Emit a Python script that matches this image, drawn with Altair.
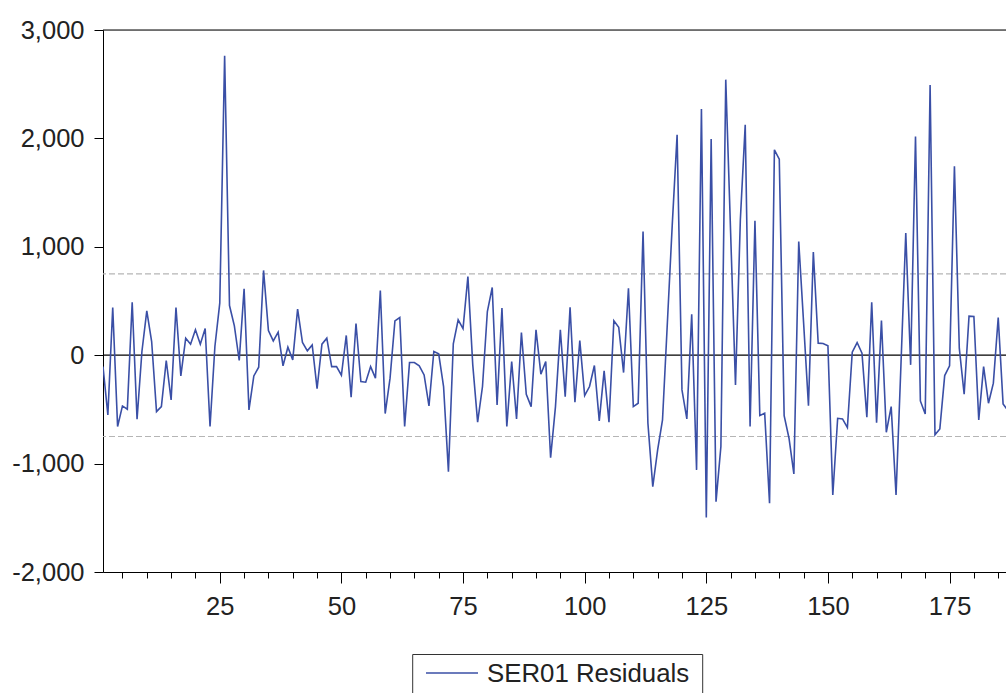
import altair as alt
import pandas as pd

# Residual values, observations 1..187
residuals = [
    -105, -551, 440, -658, -468, -498, 489, -591, 34, 409,
    126, -520, -474, -49, -412, 440, -191, 157, 102, 234,
    102, 246, -658, 80, 480, 2763, 458, 271, -49, 612,
    -505, -191, -111, 782, 228, 132, 212, -98, 74, -43,
    425, 117, 40, 95, -308, 102, 157, -105, -105, -185,
    182, -388, 292, -243, -249, -105, -212, 597, -538, -212,
    317, 348, -658, -68, -68, -98, -182, -468, 34, 12,
    -289, -1074, 105, 326, 246, 726, -89, -618, -289, 403,
    625, -458, 434, -658, -58, -588, 209, -360, -474, 234,
    -175, -58, -945, -474, 234, -382, 443, -434, 135, -372,
    -289, -95, -606, -145, -618, 317, 258, -160, 618, -474,
    -443, 1142, -628, -1212, -874, -597, 300, 1200, 2034, -320,
    -588, 378, -1058, 2271, -1498, 1994, -1351, -843, 2542, 1130,
    -274, 1250, 2126, -658, 1240, -557, -535, -1366, 1895, 1809,
    -557, -766, -1095, 1049, 300, -465, 951, 111, 108, 86,
    -1289, -582, -588, -668, 28, 117, 18, -572, 489, -622,
    320, -711, -474, -1289, -100, 1126, -89, 2018, -422, -542,
    2492, -735, -680, -188, -98, 1742, 65, -360, 360, 357,
    -597, -105, -443, -258, 348, -449, -510,
]
obs = list(range(1, len(residuals) + 1))
band = [750, -750]
y_ticks = [-2000, -1000, 0, 1000, 2000, 3000]
x_ticks = list(range(5, 186, 5))
series_name = "SER01 Residuals"

FONT = "Liberation Sans"
BLUE = "#3a4fa6"
W, H = 903, 542

df = pd.DataFrame({"obs": obs, "resid": residuals})

xscale = alt.Scale(domain=[1, 186.6], nice=False, zero=False)
yscale = alt.Scale(domain=[-2000, 3000], nice=False)

line = alt.Chart(df).mark_line(color=BLUE, strokeWidth=1.6, clip=True).encode(
    x=alt.X("obs:Q", scale=xscale, axis=alt.Axis(
        values=x_ticks, title=None, grid=False,
        labelExpr="datum.value % 25 === 0 ? datum.label : ''",
        tickSize={"condition": {"test": "datum.value % 25 === 0", "value": 11}, "value": 6},
        labelPadding=11, labelFontSize=25.5, labelFont=FONT, labelColor="#222222",
        domainColor="black", tickColor="black", labelFlush=False)),
    y=alt.Y("resid:Q", scale=yscale, axis=alt.Axis(
        values=y_ticks, title=None, grid=False,
        labelExpr="replace(format(datum.value, ',.0f'), '\u2212', '-')",
        tickSize=9, labelPadding=10, labelFontSize=25.5, labelFont=FONT,
        labelColor="#222222", domainColor="black", tickColor="black")),
)

zero = alt.Chart(pd.DataFrame({"y": [0]})).mark_rule(color="black", strokeWidth=1.2).encode(
    y=alt.Y("y:Q", scale=yscale)
)

bands = alt.Chart(pd.DataFrame({"y": band})).mark_rule(
    color="#b5b5b5", strokeWidth=1.2, strokeDash=[6, 3]
).encode(y=alt.Y("y:Q", scale=yscale))

top_border = alt.Chart(pd.DataFrame({"a": [0]})).mark_rule(color="black", strokeWidth=1).encode(
    x=alt.value(0), x2=alt.value(W), y=alt.value(0)
)

leg_df = pd.DataFrame({"label": [series_name]})
leg_box = alt.Chart(leg_df).mark_rect(fill="white", stroke="#333333", strokeWidth=1).encode(
    x=alt.value(309.7), x2=alt.value(599.7), y=alt.value(624.5), y2=alt.value(700)
)
leg_line = alt.Chart(leg_df).mark_rule(color=BLUE, strokeWidth=1.6).encode(
    x=alt.value(323), x2=alt.value(375), y=alt.value(643)
)
leg_text = alt.Chart(leg_df).mark_text(
    align="left", baseline="middle", fontSize=25.8, font=FONT, color="#222222"
).encode(x=alt.value(384), y=alt.value(644), text="label:N")

chart = alt.layer(bands, zero, line, top_border, leg_box, leg_line, leg_text).properties(
    width=W, height=H,
    autosize=alt.AutoSizeParams(type="none"),
    padding={"left": 103, "top": 30, "right": 0, "bottom": 121},
).configure_view(stroke=None).configure(background="white")

chart.save("out.html", embed_options={"renderer": "svg", "actions": False})
